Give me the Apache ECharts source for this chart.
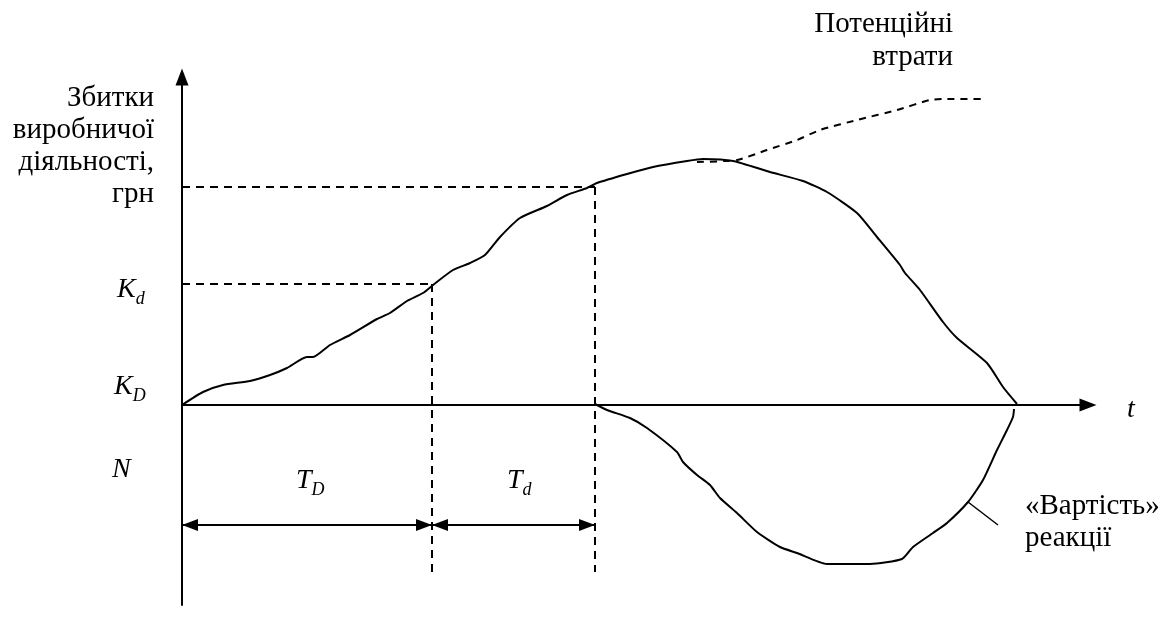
<!DOCTYPE html>
<html>
<head>
<meta charset="utf-8">
<title>Збитки виробничої діяльності</title>
<script src="https://cdn.jsdelivr.net/npm/echarts@6/dist/echarts.min.js"></script>
<style>
  html, body { margin: 0; padding: 0; background: #fff; }
  #chart { width: 1170px; height: 619px; }
</style>
</head>
<body>
<div id="chart"></div>
<script>
// main loss curve (solid, rises then falls back to the t axis)
const lossCurve = [
  [0, 0], [21, 13], [41, 20], [68, 24], [88, 30], [105, 37], [125, 48], [131, 48],
  [148, 60], [168, 70], [195, 86], [208, 92], [225, 104], [241, 112], [251, 120],
  [271, 135], [288, 142], [303, 150], [318, 168], [338, 187], [365, 199], [385, 210],
  [405, 217], [415, 222], [445, 231], [471, 238], [505, 244], [521, 246], [551, 244],
  [588, 233], [621, 224], [645, 213], [675, 192], [695, 168], [718, 140], [723, 132],
  [738, 115], [761, 83], [775, 67], [805, 42], [821, 18], [835, 1]
];
// "Потенційні втрати" (dashed continuation)
const potentialLoss = [
  [515, 243], [555, 245], [585, 255], [615, 265], [638, 275], [675, 285],
  [715, 295], [748, 305], [765, 306], [801, 306]
];
// "Вартість реакції" (below the t axis)
const reactionCost = [
  [413, 1], [425, -5], [448, -13], [465, -23], [495, -47], [501, -57], [515, -70],
  [528, -80], [538, -93], [555, -108], [575, -127], [598, -142], [615, -148],
  [645, -159], [688, -159], [720, -154], [731, -142], [751, -128], [765, -118],
  [786, -97], [801, -75], [815, -45], [825, -25], [831, -12], [832, -4]
];
const leaderLine = [[786, -97], [816, -120]];

// levels and time marks
const kdLevel = 121;
const peakLevel = 218;
const tDEnd = 250;
const tdEnd = 413;
const spanLevel = -120;
const guideBottom = -167;

const chart = echarts.init(document.getElementById('chart'));

const serif = 'Liberation Serif';
const black = '#000';

function curve(data, type, width, smooth) {
  return {
    type: 'line',
    data: data,
    symbol: 'none',
    silent: true,
    smooth: smooth || false,
    lineStyle: { color: black, width: width || 2, type: type || 'solid' },
    z: 3
  };
}

const subRich = {
  i: { fontFamily: serif, fontStyle: 'italic', fontSize: 28, lineHeight: 36, fill: black },
  s: { fontFamily: serif, fontStyle: 'italic', fontSize: 18, lineHeight: 18, verticalAlign: 'bottom', fill: black }
};

function subText(x, y, main, sub) {
  return {
    type: 'text', x: x, y: y, silent: true,
    style: { text: '{i|' + main + '}' + (sub ? '{s|' + sub + '}' : ''), rich: subRich, align: 'left', verticalAlign: 'middle' }
  };
}

let option = {
  animation: false,
  backgroundColor: '#fff',
  grid: { left: 182, top: 77, width: 906, height: 528 },
  xAxis: {
    type: 'value', min: 0, max: 906,
    axisLine: { onZero: true, lineStyle: { color: black, width: 2 }, symbol: ['none', 'triangle'], symbolSize: [13, 17] },
    axisTick: { show: false }, axisLabel: { show: false }, splitLine: { show: false }
  },
  yAxis: {
    type: 'value', min: -200, max: 328,
    axisLine: { show: true, lineStyle: { color: black, width: 2 }, symbol: ['none', 'triangle'], symbolSize: [13, 17] },
    axisTick: { show: false }, axisLabel: { show: false }, splitLine: { show: false }
  },
  series: [
    curve(lossCurve, 'solid', 2, 0.2),
    curve(potentialLoss, [7, 6], 2, 0.2),
    curve(reactionCost, 'solid', 2, 0.2),
    curve(leaderLine, 'solid', 1.5),
    curve([[0, kdLevel], [tDEnd, kdLevel]], [8, 6]),
    curve([[tDEnd, kdLevel], [tDEnd, guideBottom]], [8, 6]),
    curve([[0, peakLevel], [tdEnd, peakLevel]], [8, 6]),
    Object.assign(curve([[tdEnd, peakLevel], [tdEnd, guideBottom]], [8, 6]), {
      markLine: {
        silent: true,
        symbol: ['triangle', 'triangle'],
        symbolSize: [12, 16],
        symbolOffset: [[0, 8], [0, 8]],
        label: { show: false },
        lineStyle: { color: black, width: 2, type: 'solid' },
        data: [
          [{ coord: [0, spanLevel] }, { coord: [tDEnd, spanLevel] }],
          [{ coord: [tDEnd, spanLevel] }, { coord: [tdEnd, spanLevel] }]
        ]
      }
    })
  ],
  graphic: [
    {
      type: 'text', x: 154, y: 82, silent: true,
      style: { text: 'Збитки\nвиробничої\nдіяльності,\nгрн', font: '29px ' + serif, lineHeight: 32, align: 'right', verticalAlign: 'top', fill: black }
    },
    {
      type: 'text', x: 953, y: 8, silent: true,
      style: { text: 'Потенційні\nвтрати', font: '29px ' + serif, lineHeight: 33, align: 'right', verticalAlign: 'top', fill: black }
    },
    {
      type: 'text', x: 1025, y: 490, silent: true,
      style: { text: '«Вартість»\nреакції', font: '29px ' + serif, lineHeight: 32, align: 'left', verticalAlign: 'top', fill: black }
    },
    subText(117, 290, 'K', 'd'),
    subText(114, 387, 'K', 'D'),
    subText(112, 470, 'N'),
    subText(296, 481, 'T', 'D'),
    subText(507, 481, 'T', 'd'),
    subText(1127, 410, 't')
  ]
};

option && chart.setOption(option);
</script>
</body>
</html>
